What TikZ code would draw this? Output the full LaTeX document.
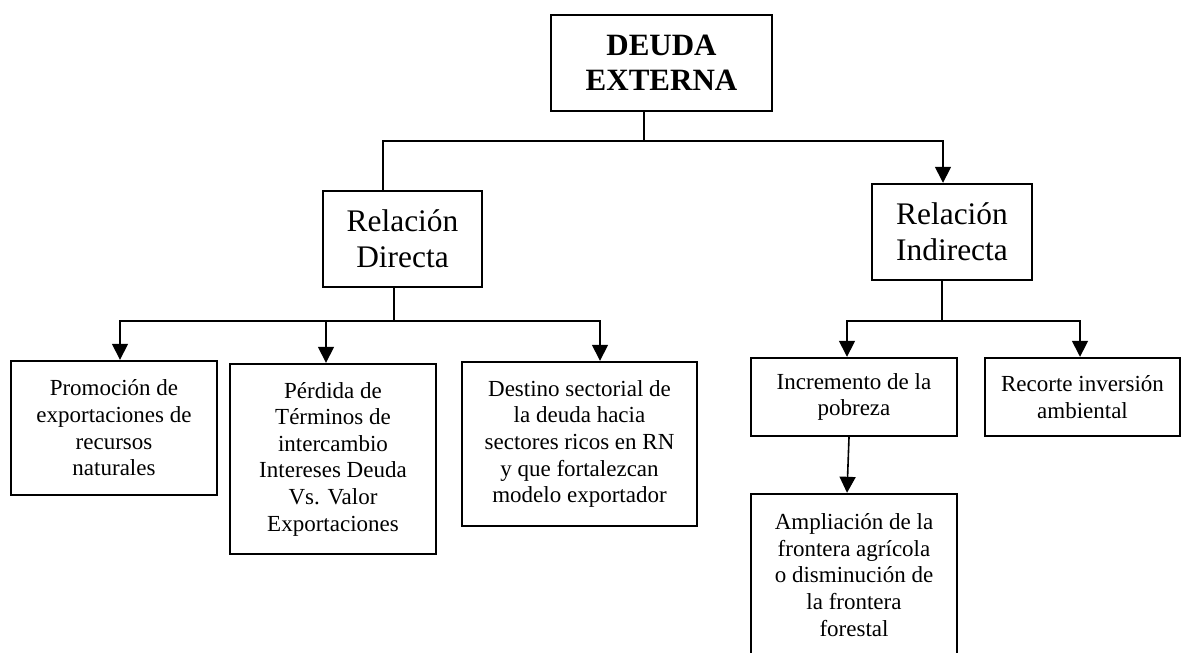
\documentclass[tikz,border=0pt]{standalone}
\usepackage{fontspec}
\setmainfont{Liberation Serif}
\usetikzlibrary{arrows.meta}

\tikzset{
  box/.style={draw, line width=1.2pt, align=center, inner sep=2pt},
  textsm/.style={font=\fontsize{11.5}{13.3}\selectfont},
  textmd/.style={font=\fontsize{15.7}{18}\selectfont},
  link/.style={line width=0.8pt},
}

\begin{document}
\begin{tikzpicture}[x=0.5pt, y=-0.5pt, >={Triangle[width=8pt,length=8pt]}]
    \useasboundingbox (0,0) rectangle (1181,652);
    \node [box, font=\fontsize{15.5}{17.5}\selectfont\bfseries, minimum width=110.5pt, minimum height=48pt] (deuda) at (661.5,63) {DEUDA\\EXTERNA};
    \node [box, textmd, minimum width=79.5pt, minimum height=48pt] (directa) at (402.5,239) {Relación\\Directa};
    \node [box, textmd, minimum width=80pt, minimum height=48pt] (indirecta) at (952,232) {Relación\\Indirecta};
    \node [box, textsm, minimum width=103pt, minimum height=67pt] (promo) at (114,428) {Promoción de\\exportaciones de\\recursos\\naturales};
    \node [box, textsm, minimum width=103pt, minimum height=95pt] (perdida) at (333,459) {Pérdida de\\Términos de\\intercambio\\Intereses Deuda\\Vs. Valor\\Exportaciones};
    \node [box, textsm, minimum width=117.5pt, minimum height=82pt] (destino) at (579.5,444) {Destino sectorial de\\la deuda hacia\\sectores ricos en RN\\y que fortalezcan\\modelo exportador};
    \node [box, textsm, minimum width=103pt, minimum height=39pt] (incremento) at (854,397) {Incremento de la\\pobreza};
    \node [box, textsm, minimum width=97.5pt, minimum height=39pt] (recorte) at (1082.5,397) {Recorte inversión\\ambiental};
    \node [box, textsm, minimum width=103pt, minimum height=81pt] (ampliacion) at (854,575) {Ampliación de la\\frontera agrícola\\o disminución de\\la frontera\\forestal};

    % junctions
    \coordinate (jt) at (644,141);
    \coordinate (jl) at (383,141);
    \coordinate (jr) at (943,141);
    \coordinate (jd) at (394,321);
    \coordinate (jn) at (942,321);

    \draw [link] (deuda.south -| jt) -- (jt);
    \draw [link, ->] (directa.north -| jl) -- (jl) -- (jr) -- (indirecta.north -| jr);
    \draw [link] (directa.south -| jd) -- (jd);
    \draw [link, ->] (jd) -| ([xshift=3pt]promo.north);
    \draw [link, ->] (jd) -| ([xshift=-3.5pt]perdida.north);
    \draw [link, ->] (jd) -| ([xshift=10.25pt]destino.north);
    \draw [link] (indirecta.south -| jn) -- (jn);
    \draw [link, ->] (jn) -| ([xshift=-3.5pt]incremento.north);
    \draw [link, ->] (jn) -| ([xshift=-1.25pt]recorte.north);
    \draw [link, ->] ([xshift=-2.5pt]incremento.south) -- ([xshift=-3.5pt]ampliacion.north);
\end{tikzpicture}
\end{document}
